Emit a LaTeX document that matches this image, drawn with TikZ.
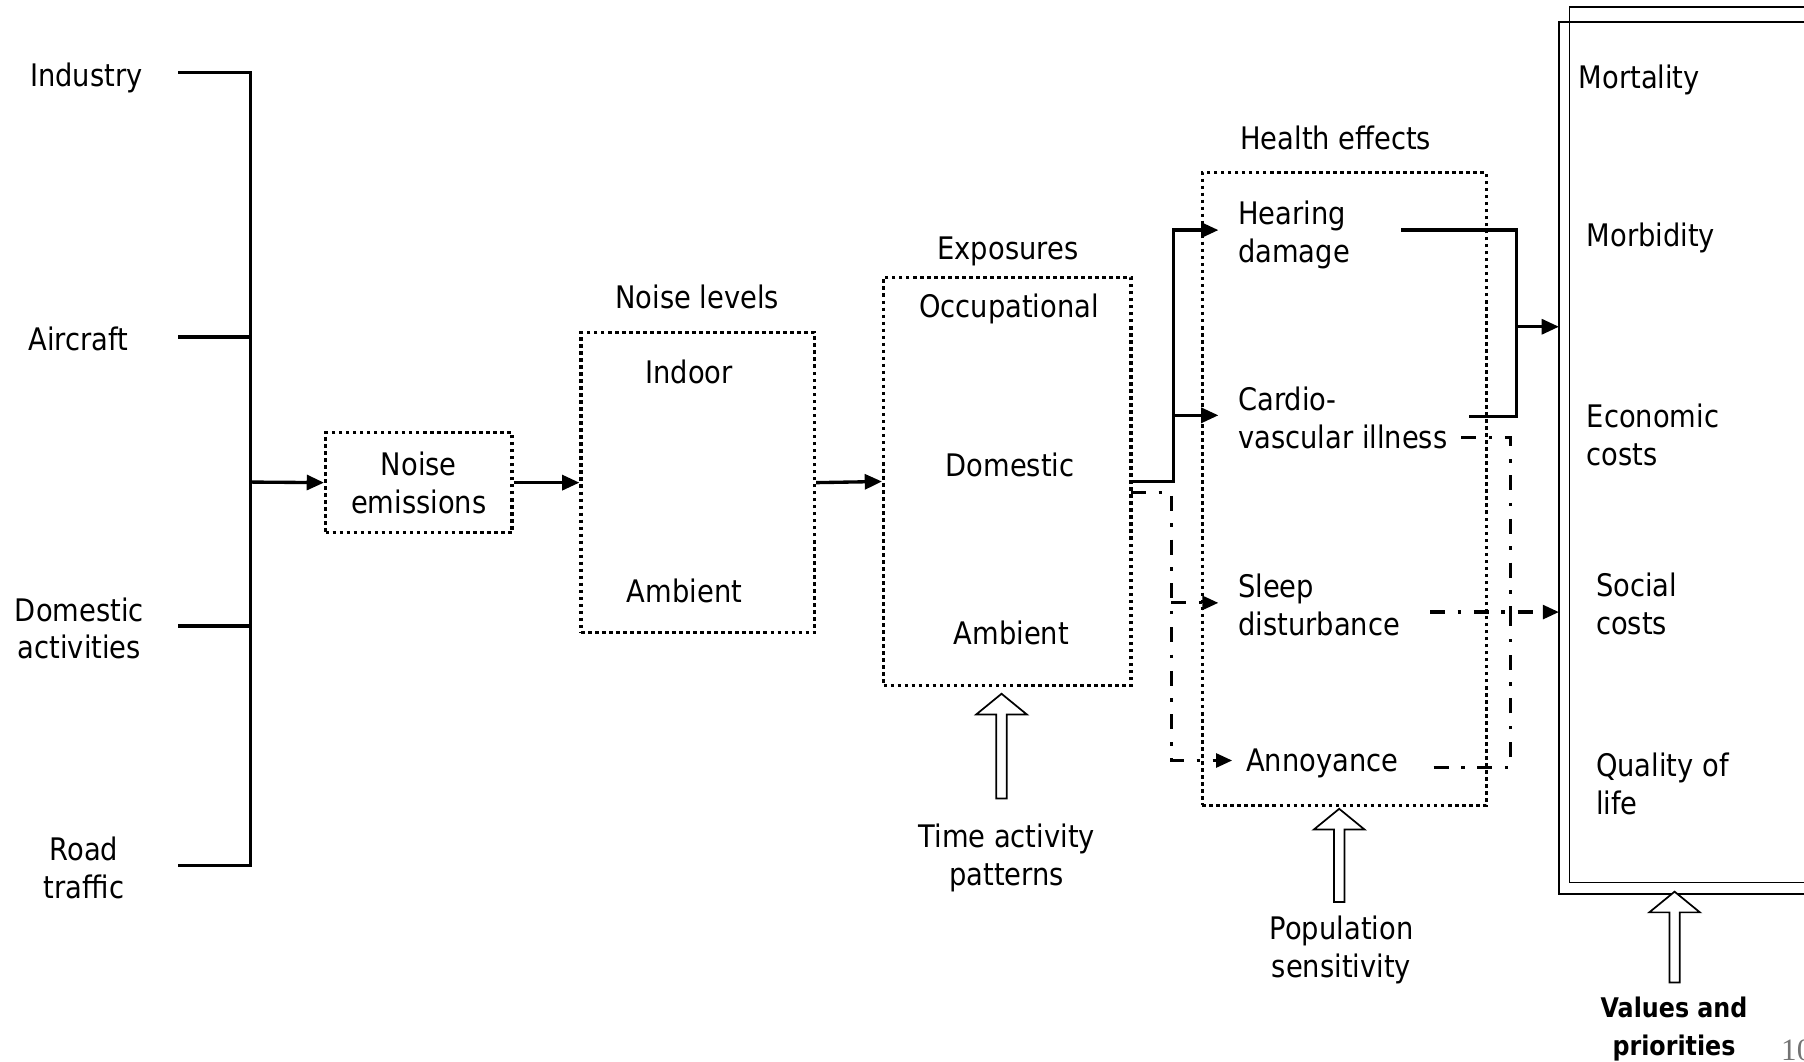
\documentclass[tikz,border=0pt]{standalone}
\usepackage{fontspec}
\setmainfont{DejaVu Sans}[FakeStretch=0.88]
\newfontfamily\pagefont{Liberation Serif}
\usetikzlibrary{arrows.meta}
\newcommand\HollowUp[3]{\draw[hollow] (#1,#2) -- (#1+22,#2+18) -- (#1+4.5,#2+18) -- (#1+4.5,#3) -- (#1-4.5,#3) -- (#1-4.5,#2+18) -- (#1-22,#2+18) -- cycle;}
\begin{document}
\begin{tikzpicture}[x=1pt,y=-1pt,
  txt/.style={inner sep=0pt, font=\fontsize{27}{33}\selectfont, align=center, text depth=0pt},
  ltxt/.style={txt, align=left, anchor=west},
  dotbox/.style={draw, line width=2.8pt, dash pattern=on 3.1pt off 3pt, inner sep=0pt},
  conn/.style={line width=2.9pt},
  arr/.style={conn, -{Triangle[length=15pt,width=13pt]}},
  dd/.style={line width=2.8pt, dash pattern=on 13pt off 11pt on 3pt off 11pt},
  ddarr/.style={dd, -{Triangle[length=14pt,width=12pt]}},
  hollow/.style={draw, line width=1.5pt, fill=white},
  vbox/.style={draw, line width=1.4pt, inner sep=0pt}
]
\useasboundingbox (0,0) rectangle (1568,923);
\clip (0,0) rectangle (1568,923);

% sources
\node[txt] (ind) at (75,65) {Industry};
\node[txt] (air) at (68,294) {Aircraft};
\node[txt] (dom) at (69,546) {Domestic\\activities};
\node[txt] (road) at (73,754) {Road\\traffic};
\coordinate (jI) at (155,63);
\coordinate (jA) at (155,293);
\coordinate (jD) at (155,544);
\coordinate (jR) at (155,752);
\coordinate (bus) at (218,419);
\draw[conn] (jI) -- (218,63) -- (218,752) -- (jR);
\draw[conn] (jA) -- (218,293);
\draw[conn] (jD) -- (218,544);

% noise emissions
\node[dotbox, txt, minimum width=162pt, minimum height=87pt] (emis) at (364,419.5) {Noise\\emissions};
\draw[arr] (bus) -- (emis.west);

% noise levels
\node[dotbox, minimum width=203pt, minimum height=261pt] (levels) at (606.5,419.5) {};
\node[txt] (levT) at (606,258) {Noise levels};
\node[txt] (indoor) at (599,323) {Indoor};
\node[txt] (amb1) at (595,513) {Ambient};
\draw[arr] (emis.east) -- (levels.west);

% exposures
\node[dotbox, minimum width=215pt, minimum height=355pt] (expo) at (875.5,418.5) {};
\node[txt] (expT) at (876,216) {Exposures};
\node[txt] (occ) at (877,266) {Occupational};
\node[txt] (domE) at (878,404) {Domestic};
\node[txt] (amb2) at (879,550) {Ambient};
\draw[arr] (levels.east) -- (expo.west);

% time activity
\HollowUp{870.5}{603}{694}
\node[txt] (time) at (875,743) {Time activity\\patterns};

% health effects
\node[dotbox, minimum width=247pt, minimum height=550pt] (health) at (1168.5,425) {};
\node[txt] (healthT) at (1161,120) {Health effects};
\node[ltxt] (hear) at (1076,201) {Hearing\\damage};
\node[ltxt] (cardio) at (1076,363) {Cardio-\\vascular illness};
\node[ltxt] (sleep) at (1076,526) {Sleep\\disturbance};
\node[ltxt] (annoy) at (1083,661) {Annoyance};

\HollowUp{1164}{703}{784}
\node[txt] (pop) at (1166,823) {Population\\sensitivity};

% exposures -> health
\coordinate (hIn) at (1059,200);
\coordinate (cIn) at (1059,361);
\coordinate (sIn) at (1059,524);
\coordinate (aIn) at (1071,661);
\coordinate (eDD) at (983,428);
\draw[arr] (expo.east) -| (1020,200) -- (hIn);
\draw[arr] (1020,361) -- (cIn);
\draw[ddarr] (eDD) -| (1018,661) -- (aIn);
\draw[ddarr] (1018,524) -- (sIn);

% values box
\node[vbox, minimum width=345pt, minimum height=758pt] (valA) at (1527.5,398) {};
\node[vbox, minimum width=336pt, minimum height=761pt] (valB) at (1532,386.5) {};
\node[ltxt] (mort) at (1372,67) {Mortality};
\node[ltxt] (morb) at (1379,204) {Morbidity};
\node[ltxt] (econ) at (1379,378) {Economic\\costs};
\node[ltxt] (soc) at (1387,525) {Social\\costs};
\node[ltxt] (qol) at (1387,681) {Quality of\\life};

% health -> values
\coordinate (hOut) at (1218,200);
\coordinate (cOut) at (1277,362);
\coordinate (vIn) at (1355,284);
\draw[conn] (hOut) -| (1318,362) -- (cOut);
\draw[arr] (1318,284) -- (vIn);

\coordinate (sOut) at (1243,532);
\coordinate (cdOut) at (1270,380);
\coordinate (aOut) at (1246,667);
\coordinate (sVal) at (1355,532);
\draw[ddarr] (sOut) -- (sVal);
\draw[dd] (cdOut) -| (1313,532);
\draw[dd] (aOut) -| (1313,532);

\HollowUp{1455.5}{775}{854}
\node[txt, font=\bfseries\fontsize{23.5}{33}\selectfont] (valT) at (1455,892) {Values and\\priorities};

\node[inner sep=0pt, anchor=base west, font=\pagefont\fontsize{27}{27}\selectfont, text=black!55] (pg) at (1548,922) {10};
\end{tikzpicture}
\end{document}
